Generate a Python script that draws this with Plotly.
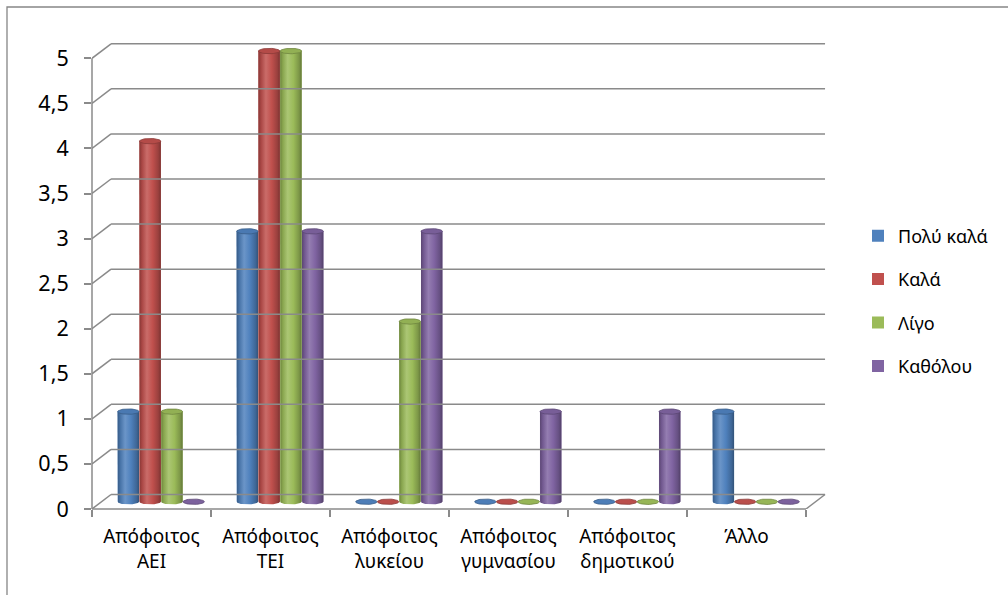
import numpy as np
import plotly.graph_objects as go

# ---- data ----
categories = [
    "Απόφοιτος<br>ΑΕΙ",
    "Απόφοιτος<br>ΤΕΙ",
    "Απόφοιτος<br>λυκείου",
    "Απόφοιτος<br>γυμνασίου",
    "Απόφοιτος<br>δημοτικού",
    "Άλλο",
]
series_names = ["Πολύ καλά", "Καλά", "Λίγο", "Καθόλου"]
poly_kala = [1, 3, 0, 0, 0, 1]
kala = [4, 5, 0, 0, 0, 0]
ligo = [1, 5, 2, 0, 0, 0]
katholou = [0, 3, 3, 1, 1, 0]
y_ticks = [0, 0.5, 1, 1.5, 2, 2.5, 3, 3.5, 4, 4.5, 5]

series_values = [poly_kala, kala, ligo, katholou]
series_colors = ["#4F81BD", "#C0504D", "#9BBB59", "#8064A2"]

# ---- geometry of the pseudo-3D frame (axis units) ----
DEPTH_X = 0.16      # horizontal shift of the back wall
DEPTH_Y = 0.161     # vertical shift of the back wall
PITCH = 0.183       # distance between neighbouring cylinders
BAR_W = 0.18        # cylinder diameter
RY = 0.03           # half-height of the elliptical caps
BASE = DEPTH_Y / 2  # cylinders stand in the middle of the floor

GRID = "#8A8A8A"
FONT = "Noto Sans"

W, H = 1008, 595
L, R, T, B = 92, 180, 40, 86
PX_X = 119.0
PX_Y = 90.14
x_range = [-0.5, -0.5 + (W - L - R) / PX_X]
y_range = [0, (H - T - B) / PX_Y]


def mix(hex_color, f):
    """f < 1 darkens towards black, f > 1 lightens towards white."""
    h = hex_color.lstrip("#")
    rgb = np.array([int(h[i:i + 2], 16) for i in (0, 2, 4)], dtype=float)
    if f <= 1:
        rgb = rgb * f
    else:
        rgb = rgb + (255 - rgb) * (f - 1)
    r, g, b = np.clip(rgb, 0, 255).round().astype(int)
    return f"rgb({r},{g},{b})"


fig = go.Figure()

t_bottom = np.linspace(np.pi, 2 * np.pi, 25)
t_full = np.linspace(0, 2 * np.pi, 49)

for k, (name, vals, col) in enumerate(zip(series_names, series_values, series_colors)):
    shift = DEPTH_X / 2 + (k - 1.5) * PITCH
    xs = list(range(len(categories)))

    # bar bodies, standing on the mid-depth floor level
    fig.add_trace(go.Bar(
        x=xs, y=vals, base=BASE, name=name,
        offset=shift - BAR_W / 2, width=BAR_W,
        marker=dict(color=col, line=dict(width=0)),
        legendgroup=name,
    ))

    scale = [
        [0.0, mix(col, 0.70)],
        [0.12, mix(col, 0.88)],
        [0.35, mix(col, 1.16)],
        [0.62, col],
        [0.88, mix(col, 0.80)],
        [1.0, mix(col, 0.64)],
    ]

    for i, v in enumerate(vals):
        xc = i + shift
        rx = BAR_W / 2
        top = BASE + v
        if v > 0:
            # rounded body with horizontal shading
            bx = [xc - rx] + list(xc + rx * np.cos(t_bottom)) + [xc + rx, xc - rx]
            by = [top] + list(BASE + RY * np.sin(t_bottom)) + [top, top]
            fig.add_trace(go.Scatter(
                x=bx, y=by, mode="lines", fill="toself",
                line=dict(width=0), showlegend=False, hoverinfo="skip",
                legendgroup=name,
                fillgradient=dict(type="horizontal", colorscale=scale),
            ))
        # top cap (or flat disc for zero values)
        fig.add_trace(go.Scatter(
            x=list(xc + rx * np.cos(t_full)), y=list(top + RY * np.sin(t_full)),
            mode="lines", fill="toself",
            fillcolor=mix(col, 0.94) if v > 0 else mix(col, 0.97),
            line=dict(width=0.8, color=mix(col, 0.72)),
            showlegend=False, hoverinfo="skip", legendgroup=name,
        ))

# ---- frame: back wall grid, side wall diagonals, floor ----
shapes = []
for v in y_ticks:
    shapes.append(dict(type="line", xref="x", yref="y",
                       x0=x_range[0], y0=v, x1=x_range[0] + DEPTH_X, y1=v + DEPTH_Y,
                       line=dict(color=GRID, width=1.5)))
    shapes.append(dict(type="line", xref="x", yref="y",
                       x0=x_range[0] + DEPTH_X, y0=v + DEPTH_Y,
                       x1=len(categories) - 0.5 + DEPTH_X, y1=v + DEPTH_Y,
                       line=dict(color=GRID, width=1.5)))
# front vertical axis
shapes.append(dict(type="line", xref="paper", yref="y", x0=0, x1=0, y0=0, y1=5,
                   line=dict(color=GRID, width=1.5)))
# front edge of the floor
shapes.append(dict(type="line", xref="x", yref="paper", x0=-0.5, x1=len(categories) - 0.5,
                   y0=0, y1=0, line=dict(color=GRID, width=1.5)))
# right edge of the floor
shapes.append(dict(type="line", xref="x", yref="y",
                   x0=len(categories) - 0.5, y0=0,
                   x1=len(categories) - 0.5 + DEPTH_X, y1=DEPTH_Y,
                   line=dict(color=GRID, width=1.5)))
# outer chart border
pw, ph = W - L - R, H - T - B
shapes.append(dict(type="rect", xref="paper", yref="paper",
                   x0=(7 - L) / pw, x1=(W + 10 - L) / pw,
                   y0=(H - B - (H + 10)) / ph, y1=(H - B - 7) / ph,
                   line=dict(color="#868686", width=1.3), fillcolor="rgba(0,0,0,0)",
                   layer="below"))

fig.update_layout(
    width=W, height=H,
    margin=dict(l=L, r=R, t=T, b=B, pad=0),
    paper_bgcolor="white", plot_bgcolor="white",
    barmode="overlay",
    separators=",.",
    font=dict(family=FONT, size=18.5, color="#000000"),
    shapes=shapes,
    showlegend=True,
    legend=dict(
        x=(858 - L) / pw, xanchor="left",
        y=(H - B - 301) / ph, yanchor="middle",
        font=dict(family=FONT, size=18, color="#000000"),
        tracegroupgap=17, bgcolor="rgba(0,0,0,0)",
        traceorder="grouped",
    ),
    xaxis=dict(
        range=x_range, showgrid=False, zeroline=False, showline=False,
        tickmode="array", tickvals=list(range(len(categories))), ticktext=categories,
        ticks="", ticklabelstandoff=14,
        tickfont=dict(family=FONT, size=19, color="#000000"),
        minor=dict(tickmode="array", tickvals=[i - 0.5 for i in range(len(categories) + 1)],
                   ticks="outside", ticklen=7, tickwidth=1.5, tickcolor=GRID),
    ),
    yaxis=dict(
        range=y_range, showgrid=False, zeroline=False, showline=False,
        tickmode="array", tickvals=y_ticks,
        ticktext=[f"{v:g}".replace(".", ",") for v in y_ticks],
        ticks="outside", ticklen=7, tickwidth=1.5, tickcolor=GRID,
        ticklabelstandoff=11,
        tickfont=dict(family=FONT, size=21.5, color="#000000"),
    ),
)

fig.write_html("out.html")
